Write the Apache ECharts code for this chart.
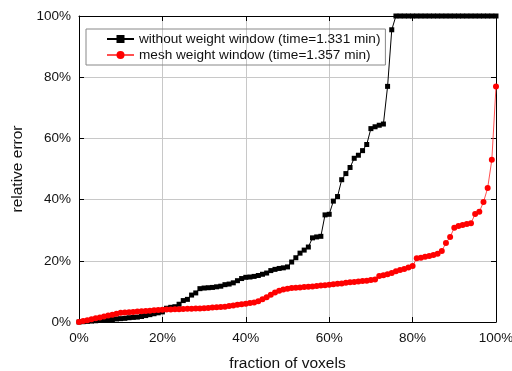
<!DOCTYPE html>
<html>
<head>
<meta charset="utf-8">
<script src="https://cdn.jsdelivr.net/npm/echarts@6/dist/echarts.min.js"></script>
<style>html,body{margin:0;padding:0;background:#fff}#c{width:512px;height:371px}</style>
</head>
<body>
<div id="c"></div>
<script>
// fraction of voxels (%)
const fractions = [0,1,2,3,4,5,6,7,8,9,10,11,12,13,14,15,16,17,18,19,20,21,22,23,24,25,26,27,28,29,30,31,32,33,34,35,36,37,38,39,40,41,42,43,44,45,46,47,48,49,50,51,52,53,54,55,56,57,58,59,60,61,62,63,64,65,66,67,68,69,70,71,72,73,74,75,76,77,78,79,80,81,82,83,84,85,86,87,88,89,90,91,92,93,94,95,96,97,98,99,100];
// relative error (%) without weight window
const withoutWW = [0,0.1,0.2,0.3,0.4,0.5,0.6,0.7,0.8,1.0,1.1,1.2,1.4,1.5,1.6,1.8,2.1,2.4,2.7,3.0,3.3,4.5,4.8,5.0,5.8,7.0,7.4,8.8,9.5,10.9,11.1,11.2,11.3,11.5,11.7,12.2,12.4,12.8,13.5,14.2,14.6,14.7,14.9,15.2,15.6,16.0,16.8,17.2,17.5,17.7,18.0,19.6,21.0,22.5,23.5,24.5,27.5,27.8,28.0,35.0,35.2,39.5,41.0,46.5,48.5,50.5,53.5,54.5,56.0,58.0,63.2,63.8,64.3,64.7,77.0,95.5,100,100,100,100,100,100,100,100,100,100,100,100,100,100,100,100,100,100,100,100,100,100,100,100,100];
// relative error (%) mesh weight window
const meshWW = [0,0.3,0.6,0.9,1.2,1.5,1.8,2.1,2.4,2.7,3.0,3.1,3.2,3.3,3.4,3.5,3.6,3.7,3.8,3.9,4.0,4.05,4.1,4.15,4.2,4.25,4.3,4.35,4.4,4.45,4.5,4.6,4.7,4.8,4.9,5.0,5.2,5.4,5.6,5.8,6.0,6.2,6.4,6.8,7.4,8.1,8.9,9.6,10.2,10.6,10.9,11.1,11.2,11.3,11.4,11.5,11.6,11.8,11.9,12.0,12.2,12.3,12.5,12.6,12.8,13.0,13.1,13.2,13.4,13.5,13.7,13.9,15.0,15.3,15.6,16.0,16.6,17.0,17.3,17.8,18.3,20.8,21.0,21.3,21.6,21.9,22.3,23.2,25.8,27.8,30.8,31.4,31.7,32.0,32.3,35.3,36.0,39.2,43.8,53.0,77.0];
const xTicks = [0,20,40,60,80,100];
const yTicks = [0,20,40,60,80,100];
const seriesNames = ['without weight window (time=1.331 min)','mesh weight window (time=1.357 min)'];

const font = 'Liberation Sans, Arial, sans-serif';
const chart = echarts.init(document.getElementById('c'), null, {renderer:'canvas'});
const pct = v => v + '%';
chart.setOption({
  animation:false,
  backgroundColor:'#fff',
  grid:{left:79,right:16,top:16,bottom:49,show:false,containLabel:false,outerBoundsMode:'none'},
  legend:{
    orient:'vertical', left:86, top:29,
    data:seriesNames,
    borderColor:'#888', borderWidth:1, borderRadius:0,
    padding:[3,5,3,20], itemGap:2, itemWidth:27, itemHeight:10,
    textStyle:{fontFamily:font,fontSize:13.6,color:'#111'}
  },
  xAxis:[{
    type:'value', min:0, max:100, interval:20,
    name:'fraction of voxels', nameLocation:'middle', nameGap:34,
    nameTextStyle:{fontFamily:font,fontSize:15.5,color:'#111'},
    axisLine:{show:true,lineStyle:{color:'#000',width:1}},
    axisTick:{show:true,inside:true,length:5,lineStyle:{color:'#000'}},
    axisLabel:{formatter:pct,fontFamily:font,fontSize:13.5,color:'#111',margin:9},
    splitLine:{show:true,lineStyle:{color:'#c8c8c8',width:1}}
  },{
    type:'value', min:0, max:100, interval:20, position:'top',
    axisLine:{show:true,onZero:false,lineStyle:{color:'#000',width:1}},
    axisTick:{show:true,inside:true,length:5,lineStyle:{color:'#000'}},
    axisLabel:{show:false}, splitLine:{show:false}
  }],
  yAxis:[{
    type:'value', min:0, max:100, interval:20,
    name:'relative error', nameLocation:'middle', nameGap:52,
    nameTextStyle:{fontFamily:font,fontSize:15.5,color:'#111'},
    axisLine:{show:true,lineStyle:{color:'#000',width:1}},
    axisTick:{show:true,inside:true,length:5,lineStyle:{color:'#000'}},
    axisLabel:{formatter:pct,fontFamily:font,fontSize:13.5,color:'#111',margin:8},
    splitLine:{show:true,lineStyle:{color:'#c8c8c8',width:1}}
  },{
    type:'value', min:0, max:100, interval:20, position:'right',
    axisLine:{show:true,onZero:false,lineStyle:{color:'#000',width:1}},
    axisTick:{show:true,inside:true,length:5,lineStyle:{color:'#000'}},
    axisLabel:{show:false}, splitLine:{show:false}
  }],
  series:[{
    name:seriesNames[0], type:'line',
    data:fractions.map((f,i)=>[f,withoutWW[i]]),
    symbol:'rect', symbolSize:5, showAllSymbol:true,
    lineStyle:{color:'#000',width:1}, itemStyle:{color:'#000'},
    z:3
  },{
    name:seriesNames[1], type:'line',
    data:fractions.map((f,i)=>[f,meshWW[i]]),
    symbol:'circle', symbolSize:6, showAllSymbol:true,
    lineStyle:{color:'#ff5050',width:1}, itemStyle:{color:'#ff0000'},
    z:4
  }]
});
</script>
</body>
</html>
